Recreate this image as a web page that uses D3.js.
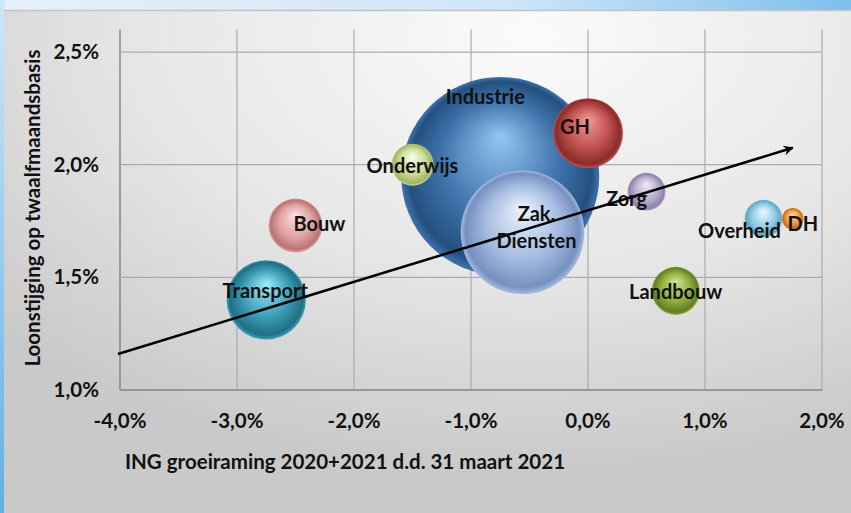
<!DOCTYPE html>
<html lang="en">

<head>
    <meta charset="UTF-8">
    <title>Loonstijging vs groeiraming</title>
    <style>
        body { margin: 0; overflow: hidden; }
        svg { display: block; }
    </style>
    <script src="https://d3js.org/d3.v7.min.js"></script>
</head>

<body>
    <script>
        // sectors and their values
        var sectors = ["Industrie", "Zak. Diensten", "GH", "Onderwijs", "Transport", "Bouw", "Landbouw", "Zorg", "Overheid", "DH"];
        var groei = [-0.75, -0.56, 0.0, -1.50, -2.75, -2.50, 0.75, 0.50, 1.50, 1.75];
        var loon = [1.95, 1.70, 2.14, 2.00, 1.40, 1.73, 1.44, 1.88, 1.76, 1.76];
        var omvang = [100, 39, 12.5, 4.5, 16, 7.4, 5.9, 3.7, 3.7, 1.2];
        var xTicks = [-4, -3, -2, -1, 0, 1, 2];
        var yTicks = [1.0, 1.5, 2.0, 2.5];
        var trendX = [-4.0, 1.75];
        var trendY = [1.16, 2.075];

        var colors = {
            "Industrie": ["#93c6ef", "#3f72ab", "#24507f"],
            "Zak. Diensten": ["#eef3fc", "#a4bbe0", "#7690c0"],
            "GH": ["#f09c98", "#c0504d", "#8a2c2a"],
            "Onderwijs": ["#fbfde6", "#cddd98", "#a2b566"],
            "Transport": ["#a0ecfc", "#3b9db5", "#206e84"],
            "Bouw": ["#fbe0e0", "#e0a3a3", "#b87474"],
            "Landbouw": ["#cfe694", "#8fae3d", "#627e24"],
            "Zorg": ["#f0ecf8", "#b9aed0", "#8e80aa"],
            "Overheid": ["#eefaff", "#93cde6", "#66a4c0"],
            "DH": ["#ffd8a0", "#f09a3c", "#c06d20"]
        };
        // label offsets from bubble centre (px)
        var labelPos = {
            "Industrie": [-15, -79], "Zak. Diensten": [14, -18], "GH": [-13, -6], "Onderwijs": [0, 1],
            "Transport": [-1, -9], "Bouw": [24, -2], "Landbouw": [0, 1], "Zorg": [-20, 7],
            "Overheid": [-24, 12], "DH": [10, 5]
        };

        var width = 851, height = 513;
        var font = "Lato, 'Open Sans', sans-serif";

        var svg = d3.select("body").append("svg")
            .attr("width", width).attr("height", height);
        var defs = svg.append("defs");

        // outer blue background
        var bg = defs.append("linearGradient").attr("id", "bgBlue")
            .attr("x1", "0").attr("y1", "0").attr("x2", "1").attr("y2", "0");
        bg.append("stop").attr("offset", "0").attr("stop-color", "#e6f1fb");
        bg.append("stop").attr("offset", "0.6").attr("stop-color", "#cfe5f8");
        bg.append("stop").attr("offset", "1").attr("stop-color", "#7fbfec");
        svg.append("rect").attr("width", width).attr("height", height).attr("fill", "url(#bgBlue)");
        var side = defs.append("linearGradient").attr("id", "sideBlue")
            .attr("x1", "0").attr("y1", "0").attr("x2", "0").attr("y2", "1");
        side.append("stop").attr("offset", "0").attr("stop-color", "#cfe6f8");
        side.append("stop").attr("offset", "1").attr("stop-color", "#5eb0e8");
        svg.append("rect").attr("x", 0).attr("y", 0).attr("width", 5).attr("height", height).attr("fill", "url(#sideBlue)");

        // grey panel
        var panel = defs.append("radialGradient").attr("id", "panel")
            .attr("cx", "0.62").attr("cy", "0.05").attr("r", "0.85");
        panel.append("stop").attr("offset", "0").attr("stop-color", "#fbfbfb");
        panel.append("stop").attr("offset", "0.55").attr("stop-color", "#e6e6e6");
        panel.append("stop").attr("offset", "1").attr("stop-color", "#c9c9c9");
        svg.append("rect").attr("x", 4).attr("y", 10).attr("width", width).attr("height", height)
            .attr("fill", "url(#panel)");
        svg.append("line").attr("x1", 4).attr("x2", width).attr("y1", 10.5).attr("y2", 10.5)
            .attr("stroke", "#c4c4c4").attr("stroke-width", 1.5);

        var x = d3.scaleLinear().domain([-4, 2]).range([120, 822]);
        var y = d3.scaleLinear().domain([1.0, 2.6]).range([390, 29.5]);
        var r = d3.scaleSqrt().domain([0, d3.max(omvang)]).range([0, 99]);
        var fmt = function (d) { return d3.format(".1f")(d).replace(".", ",").replace("−", "-") + "%"; };

        // grid
        svg.append("g").selectAll("line").data(xTicks).enter().append("line")
            .attr("x1", function (d) { return x(d); }).attr("x2", function (d) { return x(d); })
            .attr("y1", y(2.6)).attr("y2", y(1.0))
            .attr("stroke", function (d, i) { return i == 0 ? "#858585" : "#ababab"; })
            .attr("stroke-width", function (d, i) { return i == 0 ? 1.5 : 1.2; });
        svg.append("g").selectAll("line").data(yTicks).enter().append("line")
            .attr("x1", x(-4)).attr("x2", x(2))
            .attr("y1", function (d) { return y(d); }).attr("y2", function (d) { return y(d); })
            .attr("stroke", function (d, i) { return i == 0 ? "#858585" : "#ababab"; })
            .attr("stroke-width", function (d, i) { return i == 0 ? 1.5 : 1.2; });

        // tick labels
        svg.append("g").selectAll("text").data(xTicks).enter().append("text")
            .attr("x", function (d) { return x(d); }).attr("y", 428)
            .attr("text-anchor", "middle")
            .style("font", "700 20.5px " + font).attr("fill", "#111")
            .text(fmt);
        svg.append("g").selectAll("text").data(yTicks).enter().append("text")
            .attr("x", 99).attr("y", function (d) { return y(d) + 7; })
            .attr("text-anchor", "end")
            .style("font", "700 20.5px " + font).attr("fill", "#111")
            .text(fmt);

        // axis titles
        svg.append("text").attr("x", 125).attr("y", 469)
            .style("font", "700 20.5px " + font).attr("fill", "#111")
            .text("ING groeiraming 2020+2021 d.d. 31 maart 2021");
        svg.append("text").attr("transform", "translate(40,208) rotate(-90)")
            .attr("text-anchor", "middle")
            .style("font", "700 20.5px " + font).attr("fill", "#111")
            .text("Loonstijging op twaalfmaandsbasis");

        // bubbles
        var data = sectors.map(function (s, i) {
            return { name: s, gx: groei[i], ly: loon[i], size: omvang[i] };
        });
        data.forEach(function (d, i) {
            var c = colors[d.name];
            var g = defs.append("radialGradient").attr("id", "bub" + i)
                .attr("cx", "0.5").attr("cy", "0.5").attr("r", "0.5")
                .attr("fx", "0.5").attr("fy", "0.3");
            g.append("stop").attr("offset", "0").attr("stop-color", c[0]);
            g.append("stop").attr("offset", "0.6").attr("stop-color", c[1]);
            g.append("stop").attr("offset", "0.92").attr("stop-color", c[2]);
            g.append("stop").attr("offset", "1").attr("stop-color", c[1]);
        });
        var order = ["Industrie", "GH", "Onderwijs", "Zak. Diensten", "Transport", "Bouw", "Landbouw", "Zorg", "Overheid", "DH"];
        var sorted = order.map(function (n) { return data.find(function (d) { return d.name == n; }); });

        svg.append("g").selectAll("circle").data(sorted).enter().append("circle")
            .attr("cx", function (d) { return x(d.gx); })
            .attr("cy", function (d) { return y(d.ly); })
            .attr("r", function (d) { return r(d.size); })
            .attr("fill", function (d) { return "url(#bub" + sectors.indexOf(d.name) + ")"; });

        // data labels
        var lab = svg.append("g").selectAll("text").data(sorted).enter().append("text")
            .attr("x", function (d) { return x(d.gx) + labelPos[d.name][0]; })
            .attr("y", function (d) { return y(d.ly) + labelPos[d.name][1] + 7; })
            .attr("text-anchor", "middle")
            .style("font", "700 20px " + font).attr("fill", "#111");
        lab.each(function (d) {
            var parts = d.name.split(" ");
            var t = d3.select(this);
            if (parts.length == 1) { t.text(d.name); return; }
            parts.forEach(function (p, k) {
                t.append("tspan").attr("x", t.attr("x")).attr("dy", k == 0 ? 0 : 27).text(p);
            });
        });

        // trend arrow
        defs.append("marker").attr("id", "arrow").attr("viewBox", "0 0 10 10")
            .attr("refX", 9).attr("refY", 5).attr("markerWidth", 5).attr("markerHeight", 4)
            .attr("orient", "auto")
            .append("path").attr("d", "M0,0 L10,5 L0,10 L3,5 Z").attr("fill", "#000");
        svg.append("line")
            .attr("x1", x(trendX[0]) - 2).attr("y1", y(trendY[0]))
            .attr("x2", x(trendX[1])).attr("y2", y(trendY[1]))
            .attr("stroke", "#000").attr("stroke-width", 2.5)
            .attr("marker-end", "url(#arrow)");
    </script>
</body>
</html>
